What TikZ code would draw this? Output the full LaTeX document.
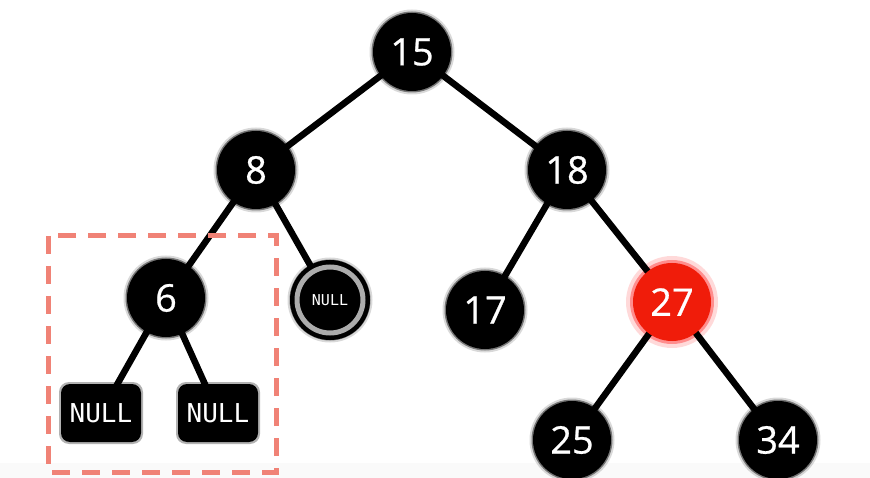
\documentclass[tikz,border=0pt]{standalone}
\usepackage{fontspec}
\usetikzlibrary{calc}
\setmainfont{Open Sans}[FakeBold=0.6]
\newfontfamily\monofnt{DejaVu Sans Mono}
\begin{document}
\begin{tikzpicture}[x=1pt,y=-1pt,
  edge/.style={line width=6.5pt,black},
  rb/.style={circle,fill=black,minimum size=78pt,inner sep=0pt,text=white,font=\fontsize{38}{40}\selectfont},
  nullbox/.style={rectangle,rounded corners=9pt,fill=black,minimum width=80pt,minimum height=58pt,inner sep=0pt,text=white,font=\monofnt\fontsize{26}{28}\selectfont},
  glowa/.style={circle,fill=black,opacity=0.45,minimum size=81pt,inner sep=0pt},
  glowb/.style={circle,fill=black,opacity=0.15,minimum size=85pt,inner sep=0pt},
  redglowa/.style={circle,fill=red,opacity=0.35,minimum size=84pt,inner sep=0pt},
  redglowb/.style={circle,fill=red,opacity=0.15,minimum size=92pt,inner sep=0pt}
]
\useasboundingbox (0,0) rectangle (870,478);
\fill[white] (0,0) rectangle (870,478);
\fill[gray!4] (0,463) rectangle (870,478);
% coordinates for nodes
\coordinate (c15) at (412,52);
\coordinate (c8) at (256,170);
\coordinate (c18) at (567,170);
\coordinate (c6) at (166,298);
\coordinate (cN) at (330,300);
\coordinate (c17) at (485,310);
\coordinate (c27) at (672,302);
\coordinate (c25) at (572,440);
\coordinate (c34) at (778,440);
\coordinate (cb1) at (101,413);
\coordinate (cb2) at (218,413);
% glows
\foreach \c in {c15,c8,c18,c6,cN,c17,c25,c34} {
  \node[glowb] at (\c) {};
  \node[glowa] at (\c) {};
}
\node[redglowb] at (c27) {};
\node[redglowa] at (c27) {};
\foreach \c in {cb1,cb2}
  \fill[black,opacity=0.3,rounded corners=10pt] ($(\c)+(-42,-31)$) rectangle ($(\c)+(42,31)$);
% edges
\draw[edge] (c15) -- (c8);
\draw[edge] (c15) -- (c18);
\draw[edge] (c8) -- (c6);
\draw[edge] (c8) -- (cN);
\draw[edge] (c18) -- (c17);
\draw[edge] (c18) -- (c27);
\draw[edge] (c6) -- (cb1);
\draw[edge] (c6) -- (cb2);
\draw[edge] (c27) -- (c25);
\draw[edge] (c27) -- (c34);
% nodes
\node[rb] (n15) at (c15) {15};
\node[rb] (n8) at (c8) {8};
\node[rb] (n18) at (c18) {18};
\node[rb] (n6) at (c6) {6};
\node[rb] (n17) at (c17) {17};
\node[rb,fill={rgb,255:red,240;green,28;blue,10}] (n27) at (c27) {27};
\node[rb] (n25) at (c25) {25};
\node[rb] (n34) at (c34) {34};
\node[circle,fill=black,minimum size=80pt,inner sep=0pt] (nN) at (cN) {};
\draw[gray!65,line width=5pt] (cN) circle (33pt);
\node[text=white,font=\monofnt\fontsize{15}{16}\selectfont] (tN) at (cN) {NULL};
\node[nullbox] (b1) at (cb1) {NULL};
\node[nullbox] (b2) at (cb2) {NULL};
% dashed box
\draw[line width=5pt,color={rgb,255:red,240;green,130;blue,118},dash pattern=on 18pt off 12pt] (48,236) rectangle (276,472);
\end{tikzpicture}
\end{document}
